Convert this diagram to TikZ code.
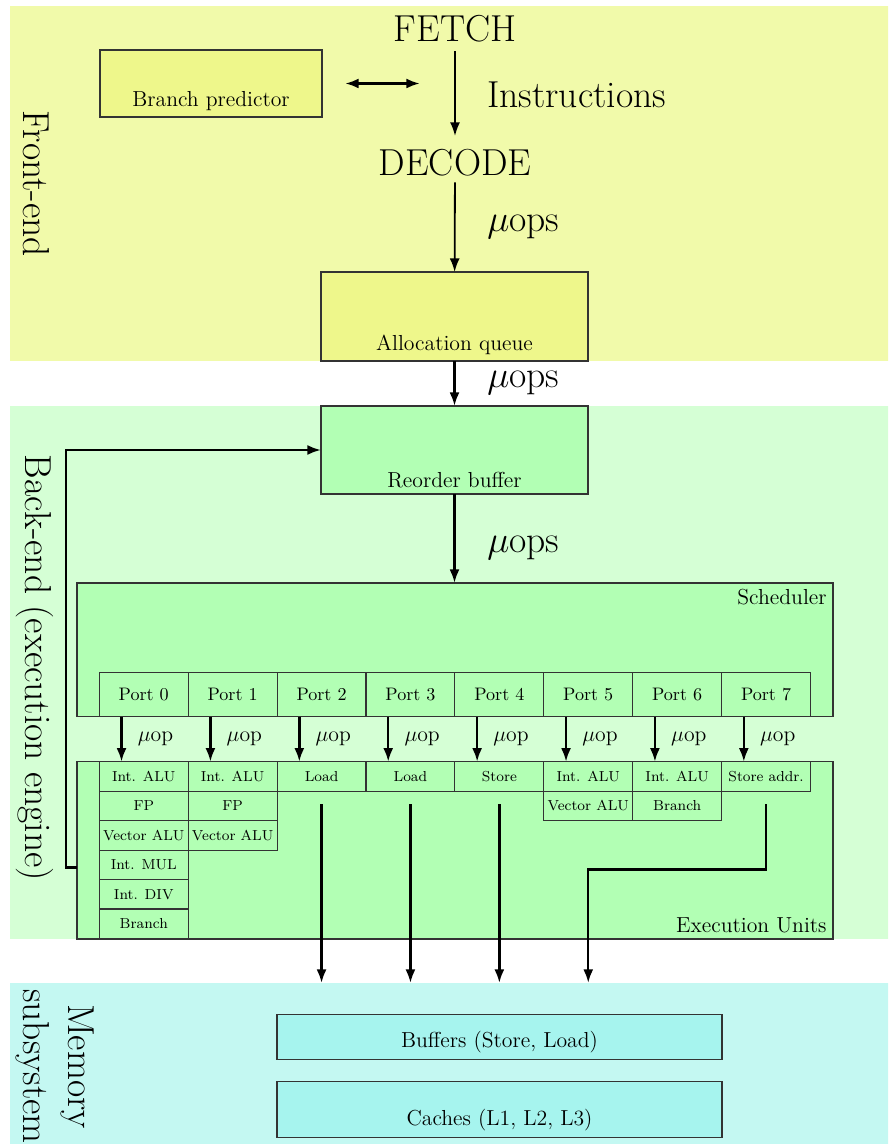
\documentclass[tikz,border=0pt]{standalone}
\usetikzlibrary{arrows.meta,calc,fit}

\definecolor{frontbg}{RGB}{241,250,170}
\definecolor{frontbox}{RGB}{238,247,139}
\definecolor{backbg}{RGB}{213,255,213}
\definecolor{backbox}{RGB}{178,255,180}
\definecolor{membg}{RGB}{196,248,242}
\definecolor{membox}{RGB}{166,244,238}

\begin{document}
\begin{tikzpicture}[x=0.5525pt, y=-0.5525pt,
  region/.style={inner sep=0pt, outer sep=0pt, draw=none},
  box/.style={draw=black!80, line width=0.6pt, inner sep=0pt, outer sep=0pt},
  port/.style={box, fill=backbox, minimum width=49.12pt, minimum height=24.31pt, font=\normalsize},
  unit/.style={box, fill=backbox, minimum width=49.12pt, minimum height=16.27pt, font=\footnotesize},
  arr/.style={-{Latex[length=7.5pt,width=5.5pt]}, line width=1pt},
  heavy/.style={arr, line width=1.35pt},
  dblarr/.style={{Latex[length=7.5pt,width=5.5pt]}-{Latex[length=7.5pt,width=5.5pt]}, line width=1.5pt},
  biglbl/.style={font=\huge},
  boxlbl/.style={font=\large}]

\useasboundingbox (0,0) rectangle (888,1144);
\clip (0,0) rectangle (888,1144);

% stage backgrounds
\node[fit={(10,6) (900,361)}, region, fill=frontbg] (front) {};
\node[fit={(10,406) (900,939)}, region, fill=backbg] (back) {};
\node[fit={(10,983) (900,1175)}, region, fill=membg] (mem) {};

\node[rotate=-90, biglbl] (frontlbl) at (36,183.5) {Front-end};
\node[rotate=-90, biglbl] (backlbl) at (35,668) {Back-end (execution engine)};
\node[rotate=-90, biglbl, align=center] (memlbl) at (55,1066.5) {Memory\\subsystem};

% front-end
\node[biglbl] (fetch) at (455,28.5) {FETCH};
\node[biglbl] (decode) at (455,162.5) {DECODE};
\node[fit={(100,50) (322,117)}, box, fill=frontbox] (bp) {};
\node[anchor=south, boxlbl] (bplbl) at (bp.south) {Branch predictor};
\node[fit={(321,272) (588,361)}, box, fill=frontbox] (alloc) {};
\node[anchor=south, boxlbl] (alloclbl) at (alloc.south) {Allocation queue};

\draw[arr, shorten <=1.5pt, shorten >=3.7pt] (fetch) -- (decode);
\node[anchor=west, biglbl] (instr) at (481,95) {Instructions};
\draw[dblarr] ($(bp.east)+(23,0)$) -- ++(75,0);
\draw[arr] (decode) -- (alloc);
\node[anchor=west, biglbl] (uops1) at (481,226.5) {$\mu$ops};

% back-end
\node[fit={(321,406) (588,494)}, box, fill=backbox] (rob) {};
\node[anchor=south, boxlbl] (roblbl) at (rob.south) {Reorder buffer};
\draw[heavy] (alloc) -- (rob);
\node[anchor=west, biglbl] (uops2) at (481,382.5) {$\mu$ops};

\node[fit={(77,583) (833,716.7)}, box, fill=backbox] (sched) {};
\node[anchor=north east, boxlbl] (schedlbl) at (sched.north east) {Scheduler};
\draw[heavy] (rob.south) -- (rob.south |- sched.north);
\node[anchor=west, biglbl] (uops3) at (481,547.5) {$\mu$ops};

\node[fit={(77,761.7) (833,939)}, box, fill=backbox] (exec) {};
\node[anchor=south east, boxlbl] (execlbl) at (exec.south east) {Execution Units};

\foreach \i in {0,...,7}
  \node[port] (p\i) at ({143.75+88.9*\i},694.7) {Port \i};

\foreach \c/\r/\t in {0/0/Int. ALU, 0/1/FP, 0/2/Vector ALU, 0/3/Int. MUL,
    0/4/Int. DIV, 0/5/Branch, 1/0/Int. ALU, 1/1/FP, 1/2/Vector ALU,
    2/0/Load, 3/0/Load, 4/0/Store, 5/0/Int. ALU, 5/1/Vector ALU,
    6/0/Int. ALU, 6/1/Branch, 7/0/Store addr.}
  \node[unit] (u\c\r) at ({143.75+88.9*\c},{776.43+29.45*\r}) {\t};

\foreach \i in {0,...,7}
  \draw[heavy] ($(p\i.south west)!0.25!(p\i.south east)$)
    -- ($(u\i0.north west)!0.25!(u\i0.north east)$)
    node[midway, anchor=west, xshift=5pt, boxlbl] (uop\i) {$\mu$op};

% retirement feedback into the reorder buffer
\draw[heavy] ($(exec.west)+(0,17.3)$) -- ++(-11,0) |- (rob.west);

% memory subsystem
\node[fit={(277,1014.5) (722,1059.3)}, box, fill=membox] (buf) {};
\node[anchor=south, boxlbl] (buflbl) at (buf.south) {Buffers (Store, Load)};
\node[fit={(277,1081.3) (722,1137.2)}, box, fill=membox] (cache) {};
\node[anchor=south, boxlbl] (cachelbl) at (cache.south) {Caches (L1, L2, L3)};

\foreach \c in {2,3,4}
  \draw[heavy] ($(u\c0.south)+(0,13)$) -- (u\c0.south |- mem.north);
\draw[heavy] ($(u70.south)+(0,13)$) -- ++(0,65.2) -| (u50.south |- mem.north);

\end{tikzpicture}
\end{document}
